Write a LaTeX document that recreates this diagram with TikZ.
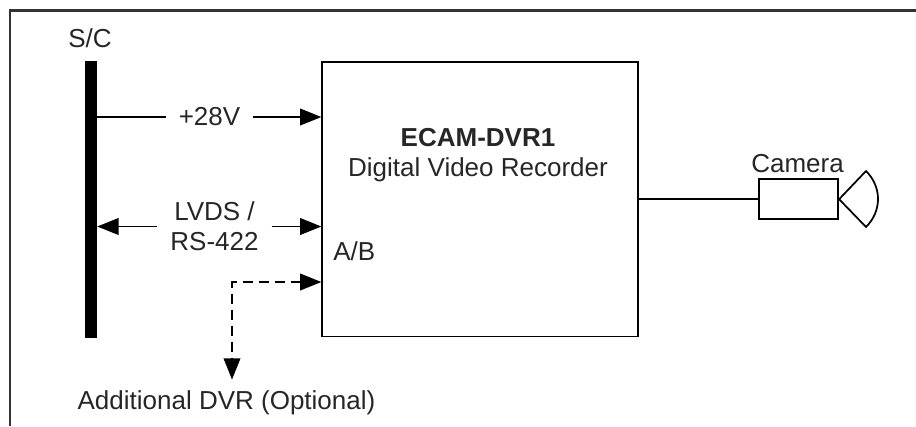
\documentclass[tikz,border=0pt]{standalone}
\usepackage{fontspec}
\setmainfont{Liberation Sans}
\usetikzlibrary{arrows.meta}
\tikzset{
  label text/.style={inner sep=0pt,text=black!85,font=\fontsize{19.5}{22.5}\selectfont,align=center},
  wire/.style={line width=1.3pt},
  wire arrow/.style={wire,-{Triangle[length=16pt,width=12.5pt]}},
  wire dash/.style={wire,{Triangle[length=16pt,width=12.5pt]}-{Triangle[length=16pt,width=12.5pt]},dash pattern=on 7.5pt off 4.5pt},
  box/.style={draw,line width=1.3pt,inner sep=0pt}
}
\begin{document}
\begin{tikzpicture}[x=0.75pt,y=-0.75pt]
\useasboundingbox (0,0) rectangle (916,426);
% outer frame, only left and top
\draw [line width=2pt,black!80] (10,426) -- (10,10.7) -- (916,10.7);
% bus
\node [fill=black,minimum width=9pt,minimum height=208pt,inner sep=0pt] (bus) at (91,199.5) {};
\node [label text] (sc) at (90,38) {S/C};
% recorder
\node [box,minimum width=236.6pt,minimum height=206pt] (dvr) at (480,199.2) {};
\node [label text] (dvrname) at (478,155) {\textbf{ECAM-DVR1}\\Digital Video Recorder};
\node [label text,anchor=west] (ab) at (333,251.5) {A/B};
% power and data
\coordinate (busp) at (bus.east |- 0,117);
\coordinate (dvrp) at (dvr.west |- 0,117);
\coordinate (busd) at (bus.east |- 0,226.5);
\coordinate (dvrd) at (dvr.west |- 0,226.5);
\node [label text,fill=white,inner xsep=9.5pt] (power) at (209.5,117) {+28V};
\node [label text,fill=white,inner xsep=9.5pt] (data) at (214.5,226.5) {LVDS /\\RS-422};
\draw [wire] (busp) -- (power);
\draw [wire arrow] (power) -- (dvrp);
\draw [wire arrow] (data) -- (busd);
\draw [wire arrow] (data) -- (dvrd);
% optional recorder
\coordinate (dvro) at (dvr.west |- 0,282);
\coordinate (corner) at (232,282);
\node [label text,inner ysep=7.9pt] (extra) at (226.5,402.5) {Additional DVR (Optional)};
\draw [wire dash] (dvro) -- (corner) -- (corner |- extra.north);
% camera
\node [box,minimum width=59.2pt,minimum height=29.8pt] (cam) at (798.8,199.2) {};
\node [label text] (camname) at (797.5,164) {Camera};
\draw [wire] (dvr.east) -- (cam.west);
\draw [wire] (cam.east) -- (866,171) .. controls (882,187) and (882,211) .. (866,227) -- cycle;
\end{tikzpicture}
\end{document}
